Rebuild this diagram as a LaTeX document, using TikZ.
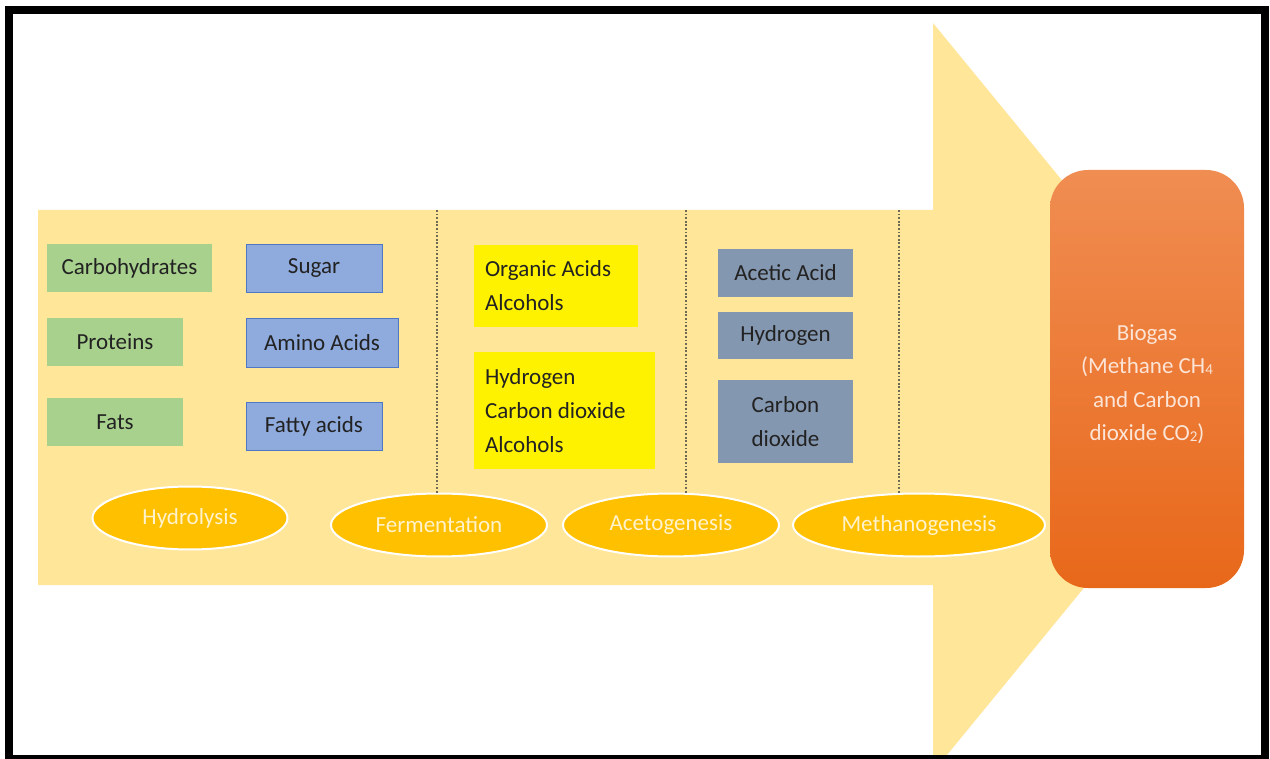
\documentclass[tikz,border=0pt]{standalone}
\usepackage{fontspec}
\setmainfont{Carlito}
\usetikzlibrary{shapes.geometric}

\definecolor{arrowfill}{HTML}{FFE699}
\definecolor{greenbox}{HTML}{A9D18E}
\definecolor{bluebox}{HTML}{8FAADC}
\definecolor{blueedge}{HTML}{4F78C4}
\definecolor{slatebox}{HTML}{8497B0}
\definecolor{stagefill}{HTML}{FFC000}
\definecolor{stagetext}{HTML}{FFF2CC}
\definecolor{gastop}{HTML}{F08D52}
\definecolor{gasbottom}{HTML}{E8681A}
\definecolor{gastext}{HTML}{FCE4D6}
\definecolor{inktext}{HTML}{222222}
\definecolor{divider}{HTML}{6E6955}

\tikzset{
  chem/.style={font=\fontsize{23}{34}\selectfont, text=inktext, inner sep=0pt, align=center},
  substrate/.style={chem, fill=greenbox, minimum height=48},
  monomer/.style={chem, fill=bluebox, draw=blueedge, line width=0.8pt, minimum height=48},
  acidbox/.style={chem, fill=yellow, align=flush left, inner xsep=11pt},
  precursor/.style={chem, fill=slatebox},
  stage/.style={ellipse, fill=stagefill, draw=white, line width=2pt, inner sep=0pt,
    text=stagetext, font=\fontsize{23}{28}\selectfont, minimum height=63},
  stageline/.style={draw=divider, line width=1.4pt, dash pattern=on 1.8pt off 1.8pt}
}

\newcommand{\smallidx}[1]{{\fontsize{15}{15}\selectfont\raisebox{-1pt}{#1}}}

\begin{document}
\begin{tikzpicture}[x=1pt, y=-1pt]
\useasboundingbox (0,0) rectangle (1270,759);
\fill[white] (0,0) rectangle (1270,759);

% big process arrow
\begin{scope}
  \clip (13,13) rectangle (1259,755);
  \fill[arrowfill] (38,210) -- (933,210) -- (933,23) -- (1240,397.5)
    -- (933,772) -- (933,585) -- (38,585) -- cycle;
\end{scope}

% hydrolysis inputs and products
\node[substrate, minimum width=165] (carb) at (129.5,268) {Carbohydrates};
\node[substrate, minimum width=136] (prot) at (115,342) {Proteins};
\node[substrate, minimum width=136] (fats) at (115,422) {Fats};
\node[monomer, minimum width=136] (sugar) at (314,268) {Sugar};
\node[monomer, minimum width=152, minimum height=49] (amino) at (322,342.5) {Amino Acids};
\node[monomer, minimum width=136] (fatty) at (314,426) {Fatty acids};

% fermentation products
\node[acidbox, text width=142, minimum height=82] (organic) at (556,286) {Organic Acids\\Alcohols};
\node[acidbox, text width=159, minimum height=117] (gases) at (564.5,410.5) {Hydrogen\\Carbon dioxide\\Alcohols};

% acetogenesis products
\node[precursor, minimum width=135, minimum height=48] (acetic) at (785.5,273) {Acetic Acid};
\node[precursor, minimum width=135, minimum height=47] (hydro) at (785.5,335.5) {Hydrogen};
\node[precursor, minimum width=135, minimum height=83] (cdiox) at (785.5,421.5) {Carbon\\dioxide};

% stages
\node[stage, minimum width=195] (hydrolysis) at (190,518) {Hydrolysis};
\node[stage, minimum width=216] (fermentation) at (439,525) {Fermentation};
\node[stage, minimum width=216] (acetogenesis) at (671,525) {Acetogenesis};
\node[stage, minimum width=252] (methanogenesis) at (919,525) {Methanogenesis};

% stage dividers
\coordinate (d1) at (437,210);
\coordinate (d2) at (686,210);
\coordinate (d3) at (899,210);
\draw[stageline] (d1) -- (d1 |- fermentation.north);
\draw[stageline] (d2) -- (d2 |- acetogenesis.north);
\draw[stageline] (d3) -- (d3 |- methanogenesis.north);

% final product, its caption set a little below the middle
\node[rounded corners=38pt, top color=gastop, bottom color=gasbottom,
  minimum width=194, minimum height=418, inner sep=0pt,
  label={[name=gaslabel, text=gastext, yshift=-5pt, align=center,
    font=\fontsize{23}{33.5}\selectfont]center:Biogas\\(Methane CH\smallidx{4}\\and Carbon\\dioxide CO\smallidx{2})}]
  (biogas) at (1147,379) {};

% frame
\draw[black, line width=8pt] (9,10) rectangle (1264.5,759);
\end{tikzpicture}
\end{document}
